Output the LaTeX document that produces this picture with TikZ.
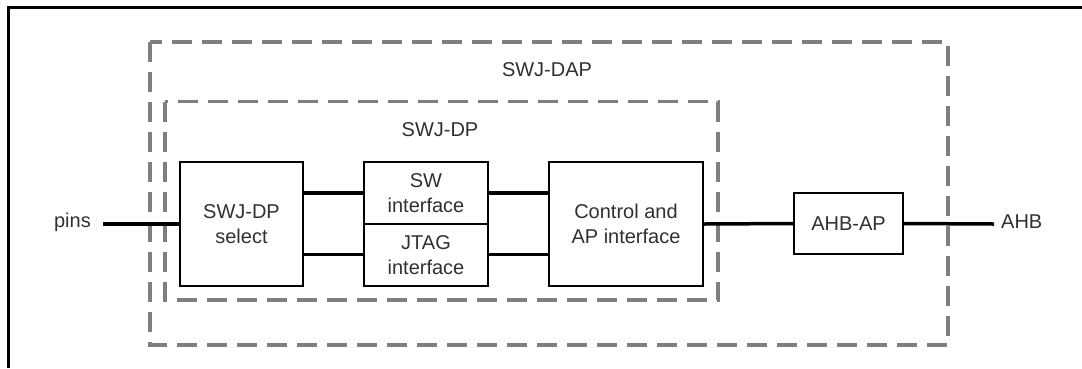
\documentclass[tikz,border=0pt]{standalone}
\usepackage{fontspec}
\setmainfont{Liberation Sans}
\definecolor{txt}{HTML}{303030}
\definecolor{dashgray}{HTML}{7F7F7F}
\tikzset{
  blk/.style={draw=black, line width=2pt, inner sep=0pt, align=center, text=txt, font=\fontsize{20}{25}\selectfont},
  grp/.style={draw=dashgray, line width=3.5pt, dash pattern=on 20pt off 10pt},
  conn/.style={draw=black, line width=3.5pt},
  lbl/.style={text=txt, font=\fontsize{20}{25}\selectfont, inner sep=0pt},
  frame/.style={draw=black, line width=3pt}
}
\begin{document}
\begin{tikzpicture}[x=1pt,y=-1pt]
\useasboundingbox (0,0) rectangle (1082,368);
\draw[frame] (1082,7) -- (8,7) -- (8,368);
% groups
\draw[grp] (150,42) rectangle (948,345);
\draw[grp] (165,101.5) rectangle (718,300);
\node[lbl] (daplbl) at (547,70) {SWJ-DAP};
\node[lbl] (dplbl) at (440,130) {SWJ-DP};
% blocks
\node[blk, minimum width=123pt, minimum height=123.5pt] (sel) at (241.5,224) {SWJ-DP\\select};
\node[blk, minimum width=124pt, minimum height=61.8pt] (sw) at (426,192.9) {SW\\interface};
\node[blk, minimum width=124pt, minimum height=61.8pt] (jtag) at (426,254.7) {JTAG\\interface};
\node[blk, minimum width=154pt, minimum height=123.5pt] (ctrl) at (626,224) {Control and\\AP interface};
\node[blk, minimum width=108.5pt, minimum height=61.6pt] (ahbap) at (848.5,223.5) {AHB-AP};
% external
\node[lbl, anchor=east] (pins) at (91,222) {pins};
\coordinate (pinsend) at (103,224);
\node[lbl, anchor=west] (ahb) at (1001,222) {AHB};
\coordinate (ahbend) at (994,224);
% connectors
\draw[conn] (pinsend) -- (sel.west);
\draw[conn] (sel.east |- sw.west) -- (sw.west);
\draw[conn] (sel.east |- jtag.west) -- (jtag.west);
\draw[conn] (sw.east) -- (ctrl.west |- sw.east);
\draw[conn] (jtag.east) -- (ctrl.west |- jtag.east);
\draw[conn] (ctrl.east) -- (ahbap.west);
\draw[conn] (ahbap.east) -- (ahbend);
\end{tikzpicture}
\end{document}
